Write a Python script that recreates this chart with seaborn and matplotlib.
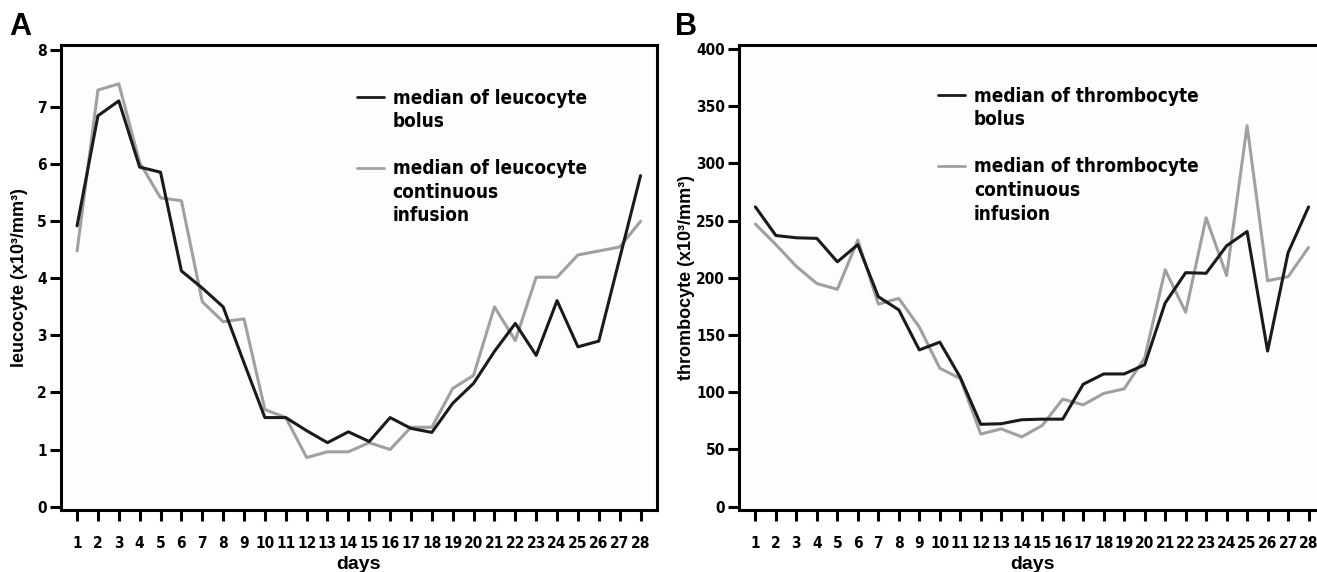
import numpy as np
import pandas as pd
import matplotlib
matplotlib.use("Agg")
import matplotlib.pyplot as plt
from matplotlib.lines import Line2D
from matplotlib import font_manager as fm
from matplotlib.textpath import TextPath
import seaborn as sns

days = list(range(1, 29))
leuco_bolus = [4.92, 6.85, 7.11, 5.95, 5.86, 4.13, 3.83, 3.50, 2.52, 1.56, 1.56, 1.33, 1.12, 1.31,
               1.14, 1.56, 1.37, 1.30, 1.81, 2.16, 2.72, 3.21, 2.65, 3.61, 2.80, 2.90, 4.35, 5.80]
leuco_cont = [4.48, 7.30, 7.41, 6.03, 5.41, 5.36, 3.59, 3.24, 3.29, 1.70, 1.56, 0.86, 0.96, 0.96,
              1.12, 1.00, 1.39, 1.39, 2.07, 2.30, 3.50, 2.91, 4.02, 4.02, 4.41, 4.48, 4.55, 5.00]
thromb_bolus = [262, 237, 235, 234.5, 214, 229, 183.5, 172, 137, 143.8, 113, 72, 72.5, 76,
                76.5, 76.5, 107, 116, 116, 124, 178, 204.5, 204, 228, 240.5, 136, 222, 262]
thromb_cont = [247, 229, 210, 195, 190, 233, 177, 182, 157, 121, 112, 63.5, 68, 61,
               71, 94, 89, 99, 103, 130, 207, 170, 252.5, 202, 333, 197.5, 201, 226.5]

leuco_labels = ["median of leucocyte\nbolus", "median of leucocyte\ncontinuous\ninfusion"]
thromb_labels = ["median of thrombocyte\nbolus", "median of thrombocyte\ncontinuous\ninfusion"]
leuco_yticks = [0, 1, 2, 3, 4, 5, 6, 7, 8]
thromb_yticks = [0, 50, 100, 150, 200, 250, 300, 350, 400]

sns.set_theme(style="white")
plt.rcParams['font.family'] = ['Liberation Sans', 'DejaVu Sans']
plt.rcParams['font.weight'] = 'bold'
plt.rcParams['text.color'] = 'black'
plt.rcParams['axes.labelcolor'] = 'black'


def find_narrow_bold():
    fl = fm.fontManager.ttflist
    def isbold(f):
        w = f.weight
        return (w == 'bold' or w == 700 or (isinstance(w, int) and w >= 700))
    prefs = [
        lambda f: f.name == 'Liberation Sans Narrow' and isbold(f) and f.style == 'normal',
        lambda f: f.name == 'Noto Sans' and isbold(f) and f.style == 'normal'
                  and 'condensed' in f.fname.lower() and 'extra' not in f.fname.lower()
                  and 'semi' not in f.fname.lower(),
        lambda f: f.name == 'DejaVu Sans' and isbold(f) and f.style == 'normal' and 'condensed' in f.fname.lower(),
        lambda f: f.name == 'Liberation Sans' and isbold(f) and f.style == 'normal',
    ]
    for p in prefs:
        c = [f for f in fl if p(f)]
        if c:
            c.sort(key=lambda f: len(f.fname))
            return c[0].fname
    return None


narrow_path = find_narrow_bold()


def narrow_fp(target_text, target_px, max_pt):
    if narrow_path:
        fp = fm.FontProperties(fname=narrow_path)
    else:
        fp = fm.FontProperties(family='DejaVu Sans', weight='bold')
    w = TextPath((0, 0), target_text, size=1, prop=fp).get_extents().width
    size_pt = min(max_pt, target_px / w * 72 / 100)
    fp.set_size(size_pt)
    return fp


tick_fp = narrow_fp("10", 17.0, 12.0)
leg_fp = narrow_fp("median of leucocyte", 192.0, 15.0)

BLACK = "#1a1a1a"
GREY = "#a0a0a0"
fig = plt.figure(figsize=(13.17, 5.72), dpi=100)


def px_rect(x0, x1, y0, y1):
    return [x0 / 1317, 1 - y1 / 572, (x1 - x0) / 1317, (y1 - y0) / 572]


axA = fig.add_axes(px_rect(61, 656.6, 45, 510))
axB = fig.add_axes(px_rect(738.8, 1326.4, 45, 510))


def draw(ax, bolus, cont, labels, yticks, ylim, xlim, ylabel, ylabel_x, letter, letter_x, leg_anchor):
    df = pd.DataFrame({
        "day": days * 2,
        "value": list(bolus) + list(cont),
        "series": [labels[0]] * len(days) + [labels[1]] * len(days),
    })
    sns.lineplot(data=df, x="day", y="value", hue="series",
                 palette=[BLACK, GREY], hue_order=labels, linewidth=2.2,
                 ax=ax, legend=False, zorder=3)
    ax.lines[0].set_zorder(4)
    ax.set_facecolor("#fdfdfd")
    ax.set_xlim(*xlim)
    ax.set_ylim(*ylim)
    ax.set_xticks(days)
    ax.set_xticklabels([str(d) for d in days])
    ax.set_yticks(yticks)
    ax.set_yticklabels([str(t) for t in yticks])
    for s in ax.spines.values():
        s.set_visible(True)
        s.set_color("black")
        s.set_linewidth(2.2)
    ax.tick_params(axis="x", direction="out", length=8, width=2.2, color="black",
                   pad=11, labelcolor="black", bottom=True)
    ax.tick_params(axis="y", direction="out", length=8, width=2.2, color="black",
                   pad=2, labelcolor="black", left=True)
    for t in ax.get_xticklabels() + ax.get_yticklabels():
        t.set_fontproperties(tick_fp)
    ax.set_xlabel("days", fontsize=14, fontweight="bold", family="Liberation Sans",
                  labelpad=3, color="black")
    ax.set_ylabel(ylabel, fontsize=13, fontweight="bold", family="Liberation Sans", color="black")
    ax.yaxis.set_label_coords(ylabel_x, 0.5)
    blank = Line2D([], [], color="none")
    b_lines = labels[0].split("\n")
    c_lines = labels[1].split("\n")
    handles = [ax.lines[0]] + [blank] * (len(b_lines) - 1) + [blank] + [ax.lines[1]] + [blank] * (len(c_lines) - 1)
    labs = b_lines + [" "] + c_lines
    fs_px = leg_fp.get_size_in_points() * 100 / 72
    row_h = 1.17 * fs_px
    lspacing = max(0.0, (26.7 - row_h) / fs_px)
    leg = ax.legend(handles, labs, loc="upper left", bbox_to_anchor=leg_anchor,
                    frameon=False, prop=leg_fp,
                    handlelength=27 / fs_px, handletextpad=9 / fs_px, labelspacing=lspacing,
                    borderpad=0, borderaxespad=0)
    for lh in leg.get_lines():
        lh.set_linewidth(2.0)
    for t in leg.get_texts():
        t.set_color("black")
    fig.text(letter_x, 1 - 27 / 572, letter, fontsize=22, fontweight="bold",
             family="Liberation Sans", va="center", ha="left", color="black")


draw(axA, leuco_bolus, leuco_cont, leuco_labels, leuco_yticks, (-0.06, 8.09), (0.23, 28.77),
     "leucocyte (x10³/mm³)", -0.056, "A", 9 / 1317, (0.4965, 0.906))
draw(axB, thromb_bolus, thromb_cont, thromb_labels, thromb_yticks, (-2.9, 403.5), (0.19, 28.87),
     "thrombocyte (x10³/mm³)", -0.074, "B", 675 / 1317, (0.3387, 0.91))

fig.savefig("out.png", dpi=100, facecolor="white")
